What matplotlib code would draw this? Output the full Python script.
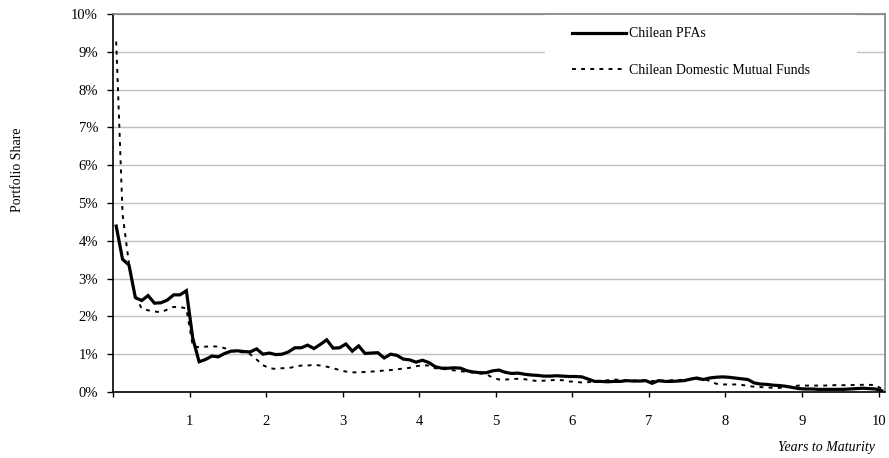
"""
Portfolio share by years to maturity: Chilean PFAs vs domestic mutual funds.
"""
import numpy as np
import matplotlib
matplotlib.use('Agg')
import matplotlib.pyplot as plt
from matplotlib.patches import Rectangle
from matplotlib.ticker import FuncFormatter

# monthly buckets (1..121), values in percent of portfolio
months = np.arange(1, 122)

pfa = [
    4.39, 3.51, 3.36, 2.50, 2.42, 2.55, 2.35, 2.36, 2.43, 2.57, 2.57, 2.68,
    1.42, 0.80, 0.86, 0.95, 0.93, 1.02, 1.08, 1.09, 1.07, 1.06, 1.14, 1.00,
    1.03, 0.99, 1.00, 1.06, 1.17, 1.17, 1.24, 1.15, 1.26, 1.38, 1.16, 1.17,
    1.27, 1.08, 1.22, 1.02, 1.03, 1.04, 0.90, 1.00, 0.97, 0.87, 0.85, 0.79,
    0.84, 0.78, 0.67, 0.63, 0.63, 0.64, 0.63, 0.56, 0.53, 0.51, 0.51, 0.56,
    0.58, 0.52, 0.49, 0.50, 0.47, 0.45, 0.44, 0.42, 0.42, 0.43, 0.42, 0.41,
    0.41, 0.40, 0.34, 0.28, 0.28, 0.27, 0.28, 0.28, 0.30, 0.29, 0.29, 0.30,
    0.23, 0.30, 0.28, 0.28, 0.29, 0.30, 0.34, 0.37, 0.33, 0.37, 0.39, 0.40,
    0.39, 0.37, 0.35, 0.33, 0.24, 0.21, 0.20, 0.18, 0.17, 0.15, 0.12, 0.09,
    0.08, 0.08, 0.07, 0.07, 0.07, 0.07, 0.07, 0.08, 0.09, 0.10, 0.09, 0.08,
    0.03,
]

mutual_funds = [
    9.27, 4.70, 3.40, 2.52, 2.21, 2.16, 2.13, 2.11, 2.18, 2.25, 2.25, 2.21,
    1.22, 1.18, 1.20, 1.21, 1.20, 1.16, 1.09, 1.06, 1.05, 1.00, 0.86, 0.71,
    0.63, 0.61, 0.63, 0.63, 0.67, 0.70, 0.70, 0.72, 0.70, 0.67, 0.63, 0.58,
    0.54, 0.52, 0.52, 0.53, 0.54, 0.55, 0.57, 0.58, 0.60, 0.62, 0.64, 0.68,
    0.71, 0.70, 0.63, 0.61, 0.60, 0.57, 0.55, 0.53, 0.51, 0.49, 0.47, 0.38,
    0.33, 0.33, 0.34, 0.35, 0.34, 0.31, 0.29, 0.30, 0.31, 0.32, 0.31, 0.28,
    0.27, 0.25, 0.26, 0.28, 0.30, 0.31, 0.33, 0.32, 0.31, 0.30, 0.31, 0.30,
    0.29, 0.30, 0.30, 0.31, 0.32, 0.32, 0.33, 0.34, 0.33, 0.30, 0.22, 0.20,
    0.20, 0.20, 0.19, 0.16, 0.14, 0.13, 0.12, 0.11, 0.11, 0.12, 0.15, 0.17,
    0.17, 0.17, 0.17, 0.17, 0.18, 0.18, 0.18, 0.18, 0.19, 0.19, 0.19, 0.18,
    0.08,
]

year_ticks = list(range(0, 11))
year_labels = [''] + [str(y) for y in range(1, 11)]
share_ticks = list(range(0, 11))

plt.rcParams['font.family'] = ['Liberation Serif', 'DejaVu Serif']
plt.rcParams['font.size'] = 10

fig = plt.figure(figsize=(8.89, 4.58), dpi=100)
ax = fig.add_axes([113 / 889, 1 - 392 / 458, 772 / 889, 378 / 458])

# category centres, in years
x = (months - 0.5) / 12.0

ax.plot(x, pfa, color='black', lw=2.3, solid_joinstyle='miter',
        label='Chilean PFAs', zorder=4)
ax.plot(x, mutual_funds, color='black', lw=1.4, linestyle=(0, (2.0, 2.7)),
        label='Chilean Domestic Mutual Funds', zorder=3)

ax.set_xlim(0, len(months) / 12.0)
ax.set_ylim(0, 10)
ax.set_xticks(year_ticks)
ax.set_xticklabels(year_labels)
ax.set_yticks(share_ticks)
ax.yaxis.set_major_formatter(FuncFormatter(lambda v, p: '{:d}%'.format(int(round(v)))))

ax.grid(axis='y', color='#c0c0c0', lw=1.0, zorder=0)
ax.set_axisbelow(True)

for side in ('left', 'bottom'):
    ax.spines[side].set_color('black')
    ax.spines[side].set_linewidth(1.2)
for side in ('top', 'right'):
    ax.spines[side].set_color('#808080')
    ax.spines[side].set_linewidth(1.2)

ax.tick_params(axis='y', direction='out', length=4.3, width=1, pad=6.5, labelsize=10.5)
ax.tick_params(axis='x', direction='out', length=3.5, width=1, pad=13, labelsize=10.5)

# white box behind the legend hides the gridline
ax.add_patch(Rectangle((0.5596, 0.82), 0.404, 0.18, transform=ax.transAxes,
                       facecolor='white', edgecolor='none', zorder=1))

fig.legend(loc='center left', bbox_to_anchor=(571.7 / 889, 1 - 52.3 / 458),
           frameon=False, borderpad=0, borderaxespad=0, handlelength=3.9,
           handletextpad=0.2, labelspacing=1.7, fontsize=10)

fig.text(18 / 889, 1 - 170 / 458, 'Portfolio Share', rotation=90,
         ha='center', va='center', fontsize=10)
fig.text(875 / 889, 1 - 447 / 458, 'Years to Maturity', style='italic',
         ha='right', va='center', fontsize=10)

fig.savefig('out.png', dpi=100)
